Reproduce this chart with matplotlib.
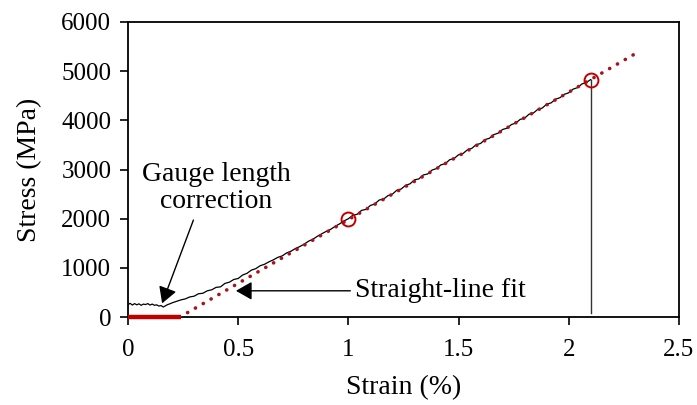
import matplotlib
matplotlib.use("Agg")
import matplotlib.pyplot as plt
import numpy as np

plt.rcParams["font.family"] = ["Liberation Serif", "DejaVu Serif"]

# measured stress-strain curve (strain %, stress MPa)
strain = [0.00, 0.01, 0.02, 0.03, 0.04, 0.05, 0.06, 0.07, 0.08, 0.09,
          0.10, 0.11, 0.12, 0.13, 0.14, 0.15, 0.16, 0.17, 0.18, 0.19,
          0.20, 0.22, 0.24, 0.26, 0.28, 0.30, 0.32, 0.34, 0.36, 0.38,
          0.40, 0.42, 0.44, 0.46, 0.48, 0.50, 0.52, 0.54, 0.56, 0.58,
          0.60, 0.62, 0.64, 0.66, 0.68, 0.70, 0.72, 0.74, 0.76, 0.78,
          0.80, 0.82, 0.84, 0.86, 0.88, 0.90, 0.92, 0.94, 0.96, 0.98,
          1.00, 1.02, 1.04, 1.06, 1.08, 1.10, 1.12, 1.14, 1.16, 1.18,
          1.20, 1.22, 1.24, 1.26, 1.28, 1.30, 1.32, 1.34, 1.36, 1.38,
          1.40, 1.42, 1.44, 1.46, 1.48, 1.50, 1.52, 1.54, 1.56, 1.58,
          1.60, 1.62, 1.64, 1.66, 1.68, 1.70, 1.72, 1.74, 1.76, 1.78,
          1.80, 1.82, 1.84, 1.86, 1.88, 1.90, 1.92, 1.94, 1.96, 1.98,
          2.00, 2.02, 2.04, 2.06, 2.08, 2.10]
stress = [255, 280, 245, 275, 250, 270, 240, 265, 255, 275,
          245, 265, 240, 250, 225, 235, 205, 230, 255, 270,
          290, 320, 350, 370, 410, 425, 475, 485, 535, 555,
          605, 615, 685, 710, 765, 785, 855, 890, 955, 985,
          1045, 1075, 1125, 1165, 1215, 1245, 1305, 1340, 1395, 1435,
          1485, 1545, 1585, 1645, 1695, 1745, 1785, 1845, 1895, 1955,
          2000, 2070, 2090, 2170, 2190, 2270, 2300, 2380, 2400, 2470,
          2500, 2580, 2605, 2680, 2710, 2790, 2810, 2890, 2910, 2990,
          3020, 3095, 3120, 3200, 3225, 3300, 3325, 3400, 3430, 3505,
          3530, 3610, 3635, 3710, 3740, 3815, 3840, 3915, 3945, 4020,
          4045, 4125, 4150, 4225, 4250, 4330, 4355, 4430, 4460, 4530,
          4560, 4635, 4665, 4740, 4770, 4830]

# straight-line fit through the two marked points
fit_strain = [0.235, 2.30]
fit_stress = [0, 5350]
marked_strain = [1.0, 2.1]
marked_stress = [2000, 4830]
# gauge length correction offset
offset_strain = [0, 0.24]
offset_stress = [0, 0]

red = "#c00000"

fig = plt.figure(figsize=(6.97, 4.05), dpi=100)
ax = fig.add_axes([0.1836, 0.217, 0.7904, 0.7287])

ax.plot(strain, stress, color="black", lw=0.9, zorder=3)
ax.plot(fit_strain, fit_stress, color="#a8141e", lw=2.6,
        linestyle=(0, (0.05, 2.45)), dash_capstyle="round", zorder=4)
ax.plot(offset_strain, offset_stress, color=red, lw=3.2, solid_capstyle="butt",
        clip_on=False, zorder=5)
ax.plot(marked_strain, marked_stress, "o", mfc="none", mec=red, ms=10, mew=1.4, zorder=6)
ax.plot([marked_strain[1], marked_strain[1]], [marked_stress[1], 80],
        color="#333333", lw=1.0, zorder=2)

arrow = dict(arrowstyle="-|>,head_length=0.7,head_width=0.4",
             color="black", lw=1.0, shrinkA=0, shrinkB=0, mutation_scale=14)
ax.text(0.40, 2624, "Gauge length\ncorrection", ha="center", va="center",
        fontsize=20, linespacing=1.15)
ax.annotate("", xy=(0.155, 280), xytext=(0.297, 1973), arrowprops=arrow)
ax.text(1.03, 535, "Straight-line fit", ha="left", va="center", fontsize=20)
ax.annotate("", xy=(0.49, 535), xytext=(1.009, 535), arrowprops=arrow)

ax.set_xlim(0, 2.5)
ax.set_ylim(0, 6000)
ax.set_xticks(np.arange(0, 2.51, 0.5), ["0", "0.5", "1", "1.5", "2", "2.5"])
ax.set_yticks(np.arange(0, 6001, 1000))
ax.tick_params(direction="out", length=6, width=1.2, labelsize=18, pad=6)
ax.tick_params(axis="x", pad=10)
for s in ax.spines.values():
    s.set_linewidth(1.3)
ax.set_xlabel("Strain (%)", fontsize=20, labelpad=10)
ax.set_ylabel("Stress (MPa)", fontsize=20, labelpad=14)

fig.savefig("out.png", dpi=100)
